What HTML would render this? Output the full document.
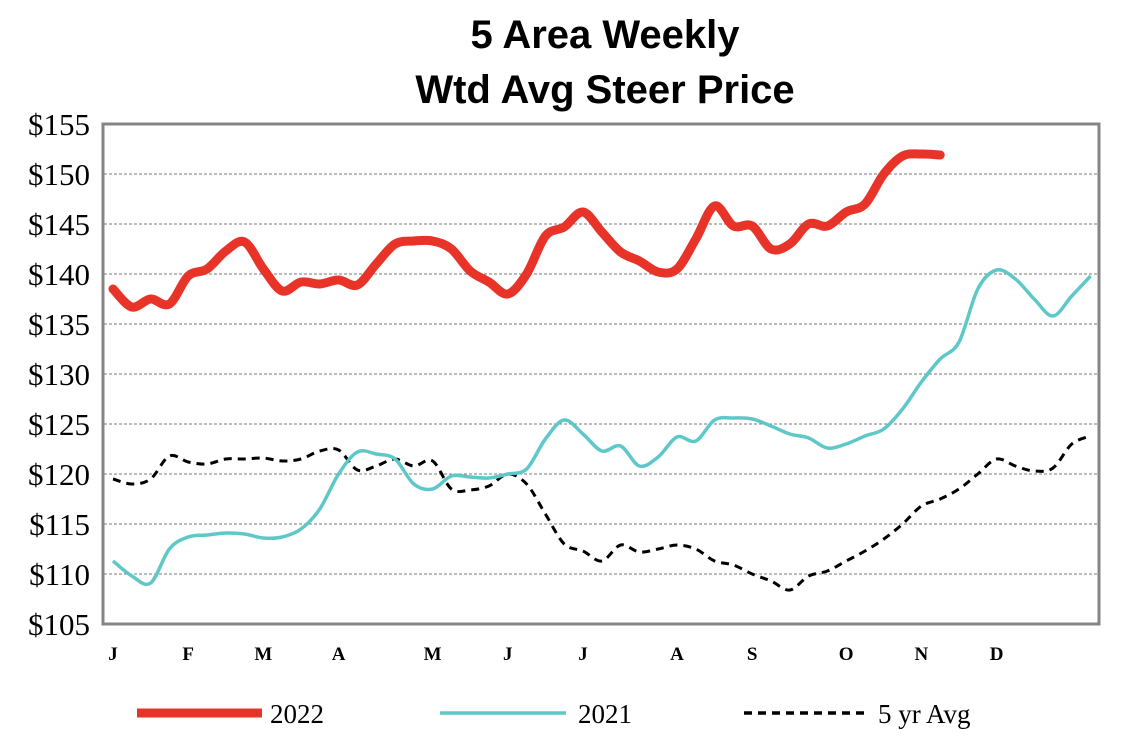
<!DOCTYPE html>
<html><head><meta charset="utf-8"><style>
body{margin:0;background:#fff;width:1142px;height:742px;overflow:hidden}
svg{display:block}
</style></head><body>
<svg id="chart" width="1142" height="742" viewBox="0 0 1142 742" xmlns="http://www.w3.org/2000/svg">
<text x="605" y="48" text-anchor="middle" font-family="Liberation Sans, sans-serif" font-weight="bold" font-size="40">5 Area Weekly</text>
<text x="605" y="103" text-anchor="middle" font-family="Liberation Sans, sans-serif" font-weight="bold" font-size="40">Wtd Avg Steer Price</text>
<g id="grid"></g>
<rect x="103" y="124" width="996" height="500" fill="none" stroke="#858585" stroke-width="3"/>
<g id="yticks"></g><g id="xticks"></g><g id="series"></g>
<g>
<line x1="137" y1="713" x2="262" y2="713" stroke="#e83428" stroke-width="9"/>
<text x="270" y="723" font-family="Liberation Serif, serif" font-size="27">2022</text>
<line x1="440" y1="713" x2="566" y2="713" stroke="#5ec8c8" stroke-width="3.5"/>
<text x="578" y="723" font-family="Liberation Serif, serif" font-size="27">2021</text>
<line x1="744" y1="713" x2="866" y2="713" stroke="#000" stroke-width="3.5" stroke-dasharray="8,6"/>
<text x="878" y="723" font-family="Liberation Serif, serif" font-size="27">5 yr Avg</text>
</g>
</svg>
<script>
const monthLabels=["J","F","M","A","M","J","J","A","S","O","N","D"];
const monthWeeks=[0,4,8,12,17,21,25,30,34,39,43,47];
const yTicks=[105,110,115,120,125,130,135,140,145,150,155];
const s2022=[138.5,136.7,137.5,137,139.8,140.5,142.3,143.2,140.5,138.3,139.2,139,139.4,138.9,141,143,143.3,143.3,142.5,140.3,139.2,138,140,143.8,144.7,146.2,144.2,142.2,141.3,140.2,140.5,143.5,146.8,144.8,144.8,142.5,143,145,144.8,146.2,147,150,151.8,152,151.9];
const s2021=[111.3,109.8,109.1,112.5,113.7,113.9,114.1,114,113.6,113.7,114.5,116.5,120,122.2,122,121.5,119,118.5,119.8,119.7,119.6,120,120.5,123.5,125.4,124,122.3,122.8,120.8,121.7,123.7,123.3,125.4,125.6,125.5,124.8,124,123.6,122.6,123,123.8,124.5,126.5,129.2,131.5,133.2,138.5,140.4,139.5,137.5,135.8,137.8,139.8];
const s5yr=[119.5,119,119.5,121.8,121.2,121,121.5,121.5,121.6,121.3,121.5,122.3,122.4,120.4,120.8,121.5,120.8,121.3,118.5,118.4,118.8,120,119,116,113,112.3,111.3,112.9,112.2,112.5,112.9,112.5,111.3,110.9,110,109.3,108.4,109.8,110.3,111.3,112.3,113.5,115,116.8,117.5,118.5,120,121.5,120.8,120.3,120.6,123,123.8];
const NS="http://www.w3.org/2000/svg";
const X=w=>113+w*18.8;
const Y=v=>624-(v-105)*10;
function mk(tag,attrs,parent){const e=document.createElementNS(NS,tag);for(const k in attrs)e.setAttribute(k,attrs[k]);document.getElementById(parent).appendChild(e);return e;}
yTicks.forEach(v=>{
  if(v>105&&v<155){const g=mk('line',{x1:104,x2:1098,y1:Y(v),y2:Y(v),stroke:'#777','stroke-width':1,'stroke-dasharray':'3,2'},'grid');
  
  }
  const t=mk('text',{x:90,y:Y(v)+11,'text-anchor':'end','font-family':'Liberation Serif, serif','font-size':31},'yticks');
  t.textContent='$'+v;
  
  
});
monthLabels.forEach((m,i)=>{
  const t=mk('text',{x:X(monthWeeks[i]),y:660,'text-anchor':'middle','font-family':'Liberation Serif, serif','font-weight':'bold','font-size':19},'xticks');
  t.textContent=m;
  
  
});
function path(arr){
  const p=arr.map((v,i)=>[X(i),Y(v)]);
  let d='M'+p[0][0]+','+p[0][1];
  for(let i=0;i<p.length-1;i++){
    const p0=p[Math.max(0,i-1)],p1=p[i],p2=p[i+1],p3=p[Math.min(p.length-1,i+2)];
    const c1=[p1[0]+(p2[0]-p0[0])/6,p1[1]+(p2[1]-p0[1])/6],c2=[p2[0]-(p3[0]-p1[0])/6,p2[1]-(p3[1]-p1[1])/6];
    d+=` C${c1[0]},${c1[1]} ${c2[0]},${c2[1]} ${p2[0]},${p2[1]}`;
  }
  return d;
}
const l5=mk('path',{d:path(s5yr),fill:'none',stroke:'#000','stroke-width':3,'stroke-dasharray':'8,6'},'series');


const l21=mk('path',{d:path(s2021),fill:'none',stroke:'#5ec8c8','stroke-width':3.5},'series');


const l22=mk('path',{d:path(s2022),fill:'none',stroke:'#e83428','stroke-width':9,'stroke-linecap':'round','stroke-linejoin':'round'},'series');


</script>
</body></html>
